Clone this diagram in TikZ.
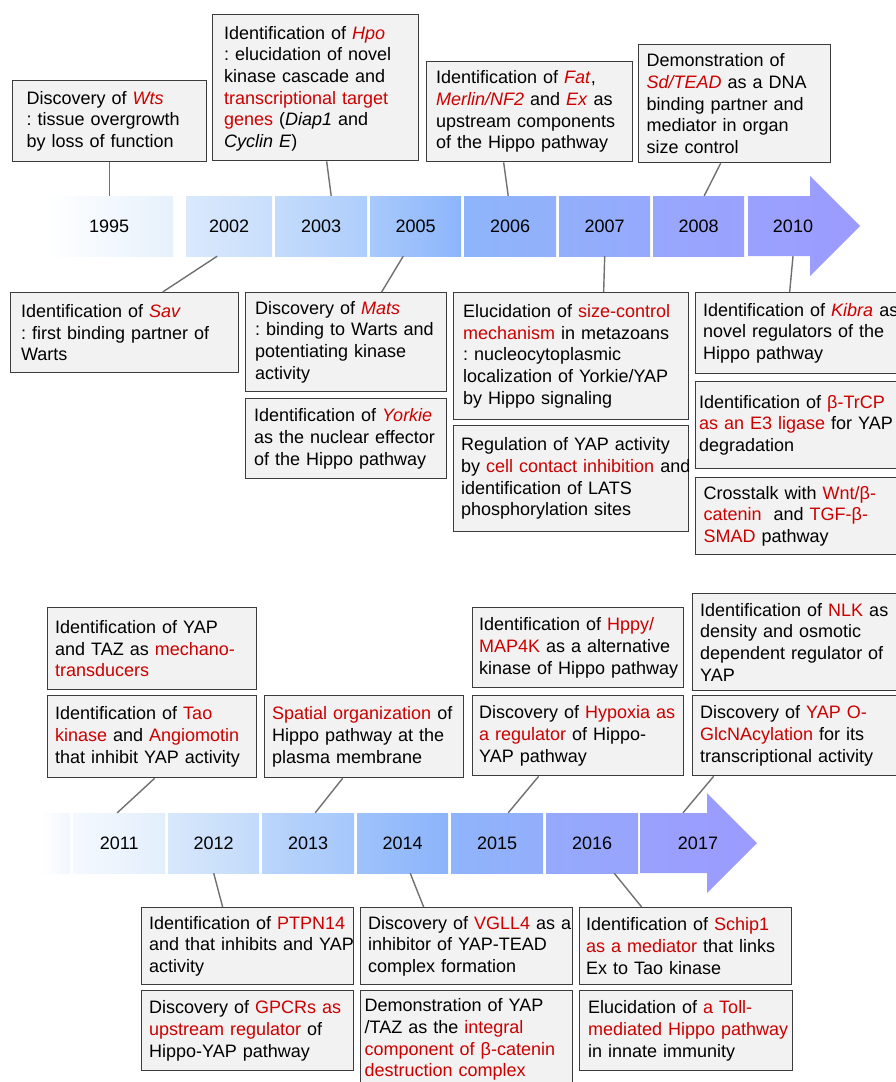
\documentclass[tikz,border=0pt]{standalone}
\usepackage{fontspec}
\setmainfont{Liberation Sans}
\usepackage{tikz}
\usetikzlibrary{calc}
\frenchspacing

\definecolor{boxfill}{HTML}{F2F2F2}
\definecolor{boxline}{HTML}{3C3C3C}
\definecolor{linkgray}{HTML}{707070}
\definecolor{hilite}{HTML}{CC0000}
% band colours, left / right end of each year
\definecolor{band1995r}{HTML}{E6F1FC}
\definecolor{band2002l}{HTML}{DAE9FC}
\definecolor{band2002r}{HTML}{C8DEFB}
\definecolor{band2003l}{HTML}{C4DCFB}
\definecolor{band2003r}{HTML}{ADCDFB}
\definecolor{band2005l}{HTML}{A8C9FB}
\definecolor{band2005r}{HTML}{8CB5FB}
\definecolor{band2006l}{HTML}{8EB5FB}
\definecolor{band2006r}{HTML}{92B0FB}
\definecolor{band2007l}{HTML}{92AFFB}
\definecolor{band2007r}{HTML}{96A9FC}
\definecolor{band2008l}{HTML}{97A7FC}
\definecolor{band2008r}{HTML}{9AA2FD}
\definecolor{band2010l}{HTML}{9AA1FD}
\definecolor{band2010r}{HTML}{9C9BFF}
\definecolor{bandleadr}{HTML}{F2F7FE}
\definecolor{band2011l}{HTML}{F5F9FE}
\definecolor{band2011r}{HTML}{E2EEFC}
\definecolor{band2012l}{HTML}{D8E8FB}
\definecolor{band2012r}{HTML}{C2DAFB}
\definecolor{band2013l}{HTML}{BBD5FB}
\definecolor{band2013r}{HTML}{A5C7FB}
\definecolor{band2014l}{HTML}{9EC2FB}
\definecolor{band2014r}{HTML}{8CB4FB}
\definecolor{band2015l}{HTML}{8FB4FB}
\definecolor{band2015r}{HTML}{93AEFB}
\definecolor{band2016l}{HTML}{95AAFC}
\definecolor{band2016r}{HTML}{98A4FC}
\definecolor{band2017l}{HTML}{99A1FD}
\definecolor{band2017r}{HTML}{9C9BFF}

\newcommand{\evfont}{\fontsize{18}{21.7}\selectfont}
\newcommand{\hlt}[1]{\textcolor{hilite}{#1}}
\newcommand{\gene}[1]{\textcolor{hilite}{\textit{#1}}}

\begin{document}
\begin{tikzpicture}[x=1pt, y=-1pt,
  evt/.style={draw=boxline, fill=boxfill, line width=1.3pt, anchor=north west,
    inner sep=0pt, align=left, font=\evfont,
    execute at begin node={\leftskip=7.5pt\rightskip=-30pt plus 1fil}},
  lpad/.style={execute at begin node={\leftskip=#1pt}},
  seg/.style={anchor=west, minimum height=60, inner sep=0pt, font=\evfont},
  link/.style={draw=linkgray, line width=1.4pt}]
  \useasboundingbox (0,0) rectangle (896,1082);

  % upper time band
  \node[seg, minimum width=128, left color=white, right color=band1995r] (y1995) at (45,226) {1995};
  \node[seg, minimum width=86, left color=band2002l, right color=band2002r] (y2002) at (186,226) {2002};
  \node[seg, minimum width=92, left color=band2003l, right color=band2003r] (y2003) at (275,226) {2003};
  \node[seg, minimum width=91, left color=band2005l, right color=band2005r] (y2005) at (370,226) {2005};
  \node[seg, minimum width=92, left color=band2006l, right color=band2006r] (y2006) at (464,226) {2006};
  \node[seg, minimum width=91, left color=band2007l, right color=band2007r] (y2007) at (559,226) {2007};
  \node[seg, minimum width=91, left color=band2008l, right color=band2008r] (y2008) at (653,226) {2008};
  \shade[left color=band2010l, right color=band2010r]
    (748,196) -- (810,196) -- (810,176) -- (860,226) -- (810,276) -- (810,256) -- (748,256) -- cycle;
  \node[font=\evfont, inner sep=0pt] (y2010) at (793,226) {2010};

  \node[evt, text width=194, minimum height=81, lpad=14] (wts) at (12,80)
    {Discovery of \gene{Wts}\\: tissue overgrowth\\by loss of function};
  \node[evt, text width=206, minimum height=146, lpad=11.5] (hpo) at (212,14)
    {Identification of \gene{Hpo}\\: elucidation of novel\\kinase cascade and\\\hlt{transcriptional target}\\\hlt{genes} (\textit{Diap1} and\\\textit{Cyclin E})\\[-20pt]\mbox{}};
  \node[evt, text width=206, minimum height=100, lpad=9.5] (fat) at (426,61)
    {Identification of \gene{Fat},\\\gene{Merlin/NF2} and \gene{Ex} as\\upstream components\\of the Hippo pathway};
  \node[evt, text width=192, minimum height=118, lpad=8] (sd) at (638,44)
    {Demonstration of\\\gene{Sd/TEAD} as a DNA\\binding partner and\\mediator in organ\\size control};

  \node[evt, text width=228, minimum height=80, lpad=10.5] (sav) at (10,292)
    {Identification of \gene{Sav}\\: first binding partner of\\Warts};
  \node[evt, text width=201, minimum height=99, lpad=9.5] (mats) at (245,292)
    {Discovery of \gene{Mats}\\: binding to Warts and\\potentiating kinase\\activity};
  \node[evt, text width=201, minimum height=80, lpad=8.5] (yorkie) at (245,398)
    {Identification of \gene{Yorkie}\\as the nuclear effector\\of the Hippo pathway};
  \node[evt, text width=235, minimum height=127, lpad=9.5] (sizec) at (453,292)
    {Elucidation of \hlt{size-control}\\\hlt{mechanism} in metazoans\\: nucleocytoplasmic\\localization of Yorkie/YAP\\by Hippo signaling};
  \node[evt, text width=235, minimum height=106, lpad=7.5] (contact) at (453,425)
    {Regulation of YAP activity\\by \hlt{cell contact inhibition} and\\identification of LATS\\phosphorylation sites};
  \node[evt, text width=215, minimum height=81, lpad=7.5] (kibra) at (695,292)
    {Identification of \gene{Kibra} as\\novel regulators of the\\Hippo pathway};
  \node[evt, text width=215, minimum height=87, lpad=3.5] (trcp) at (695,381)
    {Identification of \hlt{β-TrCP}\\\hlt{as an E3 ligase} for YAP\\degradation};
  \node[evt, text width=215, minimum height=77, lpad=8] (cross) at (695,477)
    {Crosstalk with \hlt{Wnt/β-}\\\hlt{catenin}\ \ and \hlt{TGF-β-}\\\hlt{SMAD} pathway};

  \draw[link] (wts.south) -- (wts.south |- y1995.north);
  \draw[link] ([xshift=11]hpo.south) -- ([xshift=10]y2003.north);
  \draw[link] ([xshift=-26]fat.south) -- ([xshift=-2]y2006.north);
  \draw[link] ([xshift=-14]sd.south) -- ([xshift=5.5]y2008.north);
  \draw[link] ([xshift=-12]y2002.south) -- ([xshift=38]sav.north);
  \draw[link] ([xshift=-12.5]y2005.south) -- ([xshift=35.5]mats.north);
  \draw[link] (y2007.south) -- ([xshift=32.5]sizec.north);
  \draw[link] (y2010 |- y2008.south) -- ([xshift=-13.5]kibra.north);

  % lower time band
  \shade[left color=white, right color=bandleadr] (40,813) rectangle (70,873);
  \node[seg, minimum width=92, left color=band2011l, right color=band2011r] (y2011) at (73,843) {2011};
  \node[seg, minimum width=91, left color=band2012l, right color=band2012r] (y2012) at (168,843) {2012};
  \node[seg, minimum width=92, left color=band2013l, right color=band2013r] (y2013) at (262,843) {2013};
  \node[seg, minimum width=91, left color=band2014l, right color=band2014r] (y2014) at (357,843) {2014};
  \node[seg, minimum width=92, left color=band2015l, right color=band2015r] (y2015) at (451,843) {2015};
  \node[seg, minimum width=92, left color=band2016l, right color=band2016r] (y2016) at (546,843) {2016};
  \shade[left color=band2017l, right color=band2017r]
    (640,813) -- (707,813) -- (707,793) -- (757,843) -- (707,893) -- (707,873) -- (640,873) -- cycle;
  \node[font=\evfont, inner sep=0pt] (y2017) at (698,843) {2017};

  \node[evt, text width=209, minimum height=82] (mechano) at (47,607)
    {Identification of YAP\\and TAZ as \hlt{mechano-}\\\hlt{transducers}};
  \node[evt, text width=209, minimum height=82] (tao) at (47,695)
    {Identification of \hlt{Tao}\\\hlt{kinase} and \hlt{Angiomotin}\\that inhibit YAP activity};
  \node[evt, text width=199, minimum height=82] (spatial) at (264,695)
    {\hlt{Spatial organization} of\\Hippo pathway at the\\plasma membrane};
  \node[evt, text width=211, minimum height=80, lpad=6.5] (hppy) at (472,607)
    {Identification of \hlt{Hppy/}\\\hlt{MAP4K} as a alternative\\kinase of Hippo pathway};
  \node[evt, text width=211, minimum height=80, lpad=6.5] (hypoxia) at (472,695)
    {Discovery of \hlt{Hypoxia as}\\\hlt{a regulator} of Hippo-\\YAP pathway};
  \node[evt, text width=215, minimum height=97] (nlk) at (692,593)
    {Identification of \hlt{NLK} as\\density and osmotic\\dependent regulator of\\YAP};
  \node[evt, text width=215, minimum height=80] (glcnac) at (692,695)
    {Discovery of \hlt{YAP O-}\\\hlt{GlcNAcylation} for its\\transcriptional activity};

  \node[evt, text width=212, minimum height=77] (ptpn) at (141,907)
    {Identification of \hlt{PTPN14}\\and that inhibits and YAP\\activity};
  \node[evt, text width=212, minimum height=80] (gpcr) at (141,990)
    {Discovery of \hlt{GPCRs as}\\\hlt{upstream regulator} of\\Hippo-YAP pathway};
  \node[evt, text width=212, minimum height=77] (vgll) at (360,907)
    {Discovery of \hlt{VGLL4} as a\\inhibitor of YAP-TEAD\\complex formation};
  \node[evt, text width=212, minimum height=98, lpad=4] (integral) at (360,990)
    {Demonstration of YAP\\/TAZ as the \hlt{integral}\\\hlt{component of β-catenin}\\\hlt{destruction complex}};
  \node[evt, text width=212, minimum height=77, lpad=6.5] (schip) at (579,907)
    {Identification of \hlt{Schip1}\\\hlt{as a mediator} that links\\Ex to Tao kinase};
  \node[evt, text width=213, minimum height=80, lpad=8.5] (toll) at (579,990)
    {Elucidation of \hlt{a Toll-}\\\hlt{mediated Hippo pathway}\\in innate immunity};

  \draw[link] ([xshift=2.5]tao.south) -- ([xshift=-2]y2011.north);
  \draw[link] ([xshift=-21.5]spatial.south) -- ([xshift=7]y2013.north);
  \draw[link] ([xshift=-39.5]hypoxia.south) -- ([xshift=11]y2015.north);
  \draw[link] ([xshift=-86.5]glcnac.south) -- ($(y2017 |- y2016.north)+(-15,0)$);
  \draw[link] (y2012.south) -- ([xshift=-25]ptpn.north);
  \draw[link] ([xshift=7.5]y2014.south) -- ([xshift=-43]vgll.north);
  \draw[link] ([xshift=22]y2016.south) -- ([xshift=-44]schip.north);
\end{tikzpicture}
\end{document}
